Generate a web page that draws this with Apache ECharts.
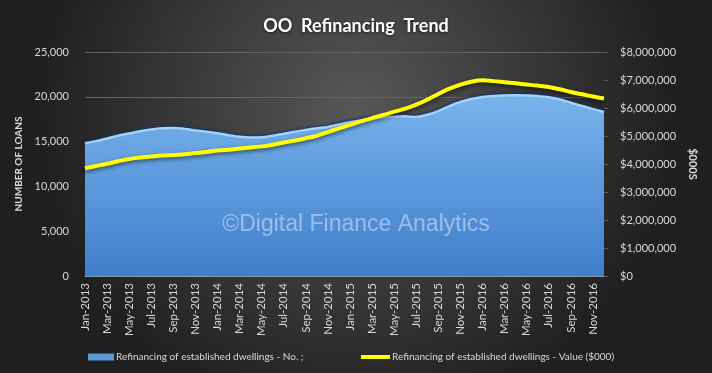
<!DOCTYPE html>
<html>
<head>
<meta charset="utf-8">
<script src="https://cdn.jsdelivr.net/npm/echarts@6/dist/echarts.min.js"></script>
<style>
html,body{margin:0;padding:0;background:#2a2a2a;}
#chart{width:712px;height:373px;}
</style>
</head>
<body>
<div id="chart"></div>
<script>
const categories = [
 'Jan-2013','Feb-2013','Mar-2013','Apr-2013','May-2013','Jun-2013','Jul-2013','Aug-2013','Sep-2013','Oct-2013','Nov-2013','Dec-2013',
 'Jan-2014','Feb-2014','Mar-2014','Apr-2014','May-2014','Jun-2014','Jul-2014','Aug-2014','Sep-2014','Oct-2014','Nov-2014','Dec-2014',
 'Jan-2015','Feb-2015','Mar-2015','Apr-2015','May-2015','Jun-2015','Jul-2015','Aug-2015','Sep-2015','Oct-2015','Nov-2015','Dec-2015',
 'Jan-2016','Feb-2016','Mar-2016','Apr-2016','May-2016','Jun-2016','Jul-2016','Aug-2016','Sep-2016','Oct-2016','Nov-2016','Dec-2016'
];
const refinancingNo = [
 14800,15050,15350,15650,15900,16150,16350,16480,16520,16420,16250,16100,
 15920,15720,15530,15450,15480,15650,15880,16100,16300,16480,16640,16900,
 17150,17380,17550,17700,17780,17820,17750,18000,18400,18950,19420,19750,
 19980,20100,20150,20160,20140,20080,19950,19700,19330,18980,18620,18300
];
const refinancingValue = [
 3850000,3930000,4010000,4100000,4180000,4230000,4270000,4300000,4320000,4350000,4390000,4430000,
 4480000,4510000,4550000,4590000,4630000,4690000,4770000,4840000,4920000,5010000,5140000,5270000,
 5400000,5520000,5640000,5750000,5870000,5980000,6120000,6300000,6500000,6690000,6830000,6940000,
 6990000,6960000,6920000,6880000,6840000,6800000,6750000,6670000,6570000,6490000,6410000,6340000
];
const seriesNames = ['Refinancing of established dwellings - No. ;', 'Refinancing of established dwellings - Value ($000)'];
const titleText = 'OO  Refinancing  Trend';
const watermark = '\u00A9Digital Finance Analytics';

const chart = echarts.init(document.getElementById('chart'));
const fmt = v => String(v).replace(/\B(?=(\d{3})+(?!\d))/g, ',');
const txt = '#d9d9d9';
const ff = 'Lato';
chart.setOption({
  backgroundColor: {
    type: 'radial', x: 0.5, y: 0.3, r: 0.85,
    colorStops: [{offset: 0, color: '#575757'}, {offset: 1, color: '#1f1f1f'}]
  },
  animation: false,
  textStyle: {fontFamily: ff},
  title: {
    text: titleText, left: 'center', top: 12,
    textStyle: {color: '#ffffff', fontSize: 18, fontWeight: 'bold', fontFamily: ff,
      textShadowColor: 'rgba(0,0,0,0.6)', textShadowBlur: 3, textShadowOffsetY: 1}
  },
  grid: {left: 85, right: 108, top: 52, bottom: 97},
  legend: [
    {data: [{name: seriesNames[0], icon: 'rect'}], left: 83, top: 347, itemWidth: 26, itemHeight: 7, itemGap: 0,
     textStyle: {color: txt, fontSize: 10, fontFamily: ff, padding: [0,0,0,-3]}},
    {data: [{name: seriesNames[1], icon: 'rect'}], left: 356, top: 347, itemWidth: 29, itemHeight: 4, itemGap: 0,
     textStyle: {color: txt, fontSize: 10, fontFamily: ff, padding: [0,0,0,-3]}}
  ],
  xAxis: {
    type: 'category', data: categories, boundaryGap: false,
    axisLine: {lineStyle: {color: '#8d9aa8', width: 1}},
    axisTick: {show: false},
    axisLabel: {color: txt, fontSize: 11.5, rotate: 90, interval: 1, margin: 7, fontFamily: ff},
    splitLine: {show: false}
  },
  yAxis: [
    {type: 'value', min: 0, max: 25000, interval: 5000,
     name: 'NUMBER OF LOANS', nameLocation: 'middle', nameGap: 53, nameRotate: 90,
     nameTextStyle: {color: txt, fontSize: 10, fontWeight: 'bold', fontFamily: ff},
     axisLine: {show: false}, axisTick: {show: false},
     axisLabel: {color: txt, fontSize: 11, margin: 16, formatter: v => fmt(v), fontFamily: ff},
     splitLine: {lineStyle: {color: '#646464', width: 1}}},
    {type: 'value', min: 0, max: 8000000, interval: 1000000, position: 'right',
     name: '$000S', nameLocation: 'middle', nameGap: 68, nameRotate: -90,
     nameTextStyle: {color: txt, fontSize: 11, fontWeight: 'bold', fontFamily: ff},
     axisLine: {show: false}, axisTick: {show: true, length: 4, lineStyle: {color: '#5a5a5a'}},
     axisLabel: {color: txt, fontSize: 11, margin: 16, formatter: v => '$' + fmt(v), fontFamily: ff},
     splitLine: {show: false}}
  ],
  graphic: [{
    type: 'text', left: 'center', top: 213, z: 10,
    style: {text: watermark, fill: 'rgba(200,222,248,0.62)', font: '23px "Liberation Sans", Arial, sans-serif'}
  }],
  series: [
    {name: seriesNames[0], type: 'line', yAxisIndex: 0, data: refinancingNo, smooth: 0.4, symbol: 'none',
     color: '#5b9bd5',
     lineStyle: {color: '#a3d2fb', width: 2.5, shadowColor: 'rgba(20,50,100,0.8)', shadowBlur: 2, shadowOffsetY: -1.5},
     areaStyle: {opacity: 1, color: {type: 'linear', x: 0, y: 0, x2: 0, y2: 1,
       colorStops: [{offset: 0, color: '#78b3ec'}, {offset: 1, color: '#3f7ecb'}]}},
     z: 2},
    {name: seriesNames[1], type: 'line', yAxisIndex: 1, data: refinancingValue, smooth: 0.4, symbol: 'none',
     color: '#ffff00',
     lineStyle: {color: '#ffff00', width: 4, shadowColor: 'rgba(0,0,0,0.55)', shadowBlur: 4, shadowOffsetY: 2},
     z: 3}
  ]
});
</script>
</body>
</html>
